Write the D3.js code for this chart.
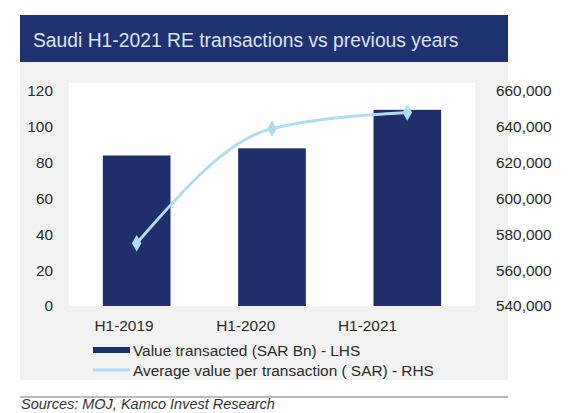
<!DOCTYPE html>
<html><head><meta charset="utf-8">
<script src="https://cdn.jsdelivr.net/npm/d3@7"></script>
<style>body{margin:0;background:#fff}svg{display:block;font-family:"Liberation Sans",Arial,sans-serif}</style>
</head><body>
<svg id="c" width="579" height="413"></svg>
<script>
const categories = ["H1-2019","H1-2020","H1-2021"];
const valueTransacted = [84, 88, 109.5];
const avgValue = [575000, 639000, 648000];
const leftTicks = [0,20,40,60,80,100,120];
const rightTicks = [540000,560000,580000,600000,620000,640000,660000];
const title = "Saudi H1-2021 RE transactions vs previous years";
const legendLabels = ["Value transacted (SAR Bn) - LHS","Average value per transaction ( SAR) - RHS"];
const source = "Sources: MOJ, Kamco Invest Research";

const svg = d3.select("#c");
const navy = "#1e2f6b", light = "#b0dcf2", txt = "#2a2a2a";
const fs = 15.4;
// panel
svg.append("rect").attr("x",20).attr("y",62).attr("width",488).attr("height",318).attr("fill","#f2f2f2");
svg.append("rect").attr("x",20).attr("y",15).attr("width",488).attr("height",47).attr("fill","#1f3272");
svg.append("text").attr("x",33).attr("y",46.5).attr("fill","#dce4f3").attr("font-size",19.3).text(title);

const plot = {l:69,r:475,t:83,b:306};
svg.append("rect").attr("x",plot.l).attr("y",plot.t).attr("width",plot.r-plot.l).attr("height",plot.b-plot.t).attr("fill","#fff");

const x = d3.scaleBand().domain(categories).range([plot.l,plot.r]).paddingInner(0.5).paddingOuter(0.25);
const xLabel = d3.scalePoint().domain(categories).range([123.5,367]);
const yL = d3.scaleLinear().domain([0,120]).range([plot.b,91]);
const yR = d3.scaleLinear().domain([540000,660000]).range([plot.b,91]);

svg.selectAll(".bar").data(categories).join("rect")
  .attr("x",d=>x(d)).attr("width",x.bandwidth())
  .attr("y",(d,i)=>yL(valueTransacted[i])).attr("height",(d,i)=>plot.b-yL(valueTransacted[i]))
  .attr("fill",navy);

function styleAxis(g){
  g.select(".domain").remove();
  g.selectAll("text").attr("font-size",fs).attr("fill",txt).attr("font-family","Liberation Sans, Arial");
}
svg.append("g").attr("transform",`translate(53,0)`)
  .call(d3.axisLeft(yL).tickValues(leftTicks).tickSize(0).tickPadding(0)).call(styleAxis);

svg.append("g").attr("transform",`translate(496,0)`)
  .call(d3.axisRight(yR).tickValues(rightTicks).tickSize(0).tickPadding(0).tickFormat(d3.format(","))).call(styleAxis);

svg.append("g").attr("transform",`translate(0,${plot.b+8})`)
  .call(d3.axisBottom(xLabel).tickSize(0).tickPadding(6)).call(styleAxis);

const pts = categories.map((c,i)=>[x(c)+x.bandwidth()/2, yR(avgValue[i])]);
svg.append("path").attr("d",d3.line().curve(d3.curveMonotoneX)(pts))
  .attr("fill","none").attr("stroke",light).attr("stroke-width",3);
svg.selectAll(".mk").data(pts).join("path")
  .attr("transform",d=>`translate(${d[0]},${d[1]})`)
  .attr("d",d3.symbol(d3.symbolDiamond,80)).attr("fill",light);

// legend
svg.append("rect").attr("x",93).attr("y",347).attr("width",37).attr("height",6).attr("fill",navy);
svg.append("text").attr("x",133).attr("y",356).attr("font-size",fs).attr("fill",txt).text(legendLabels[0]);
svg.append("line").attr("x1",93).attr("x2",130).attr("y1",370).attr("y2",370).attr("stroke",light).attr("stroke-width",3);
svg.append("text").attr("x",133).attr("y",376).attr("font-size",fs).attr("fill",txt).text(legendLabels[1]);

svg.append("line").attr("x1",20).attr("x2",508).attr("y1",397).attr("y2",397).attr("stroke","#777").attr("stroke-width",1.2);
svg.append("text").attr("x",21).attr("y",409).attr("font-size",14.5).attr("font-style","italic").attr("fill","#333").text(source);
</script>
</body></html>
